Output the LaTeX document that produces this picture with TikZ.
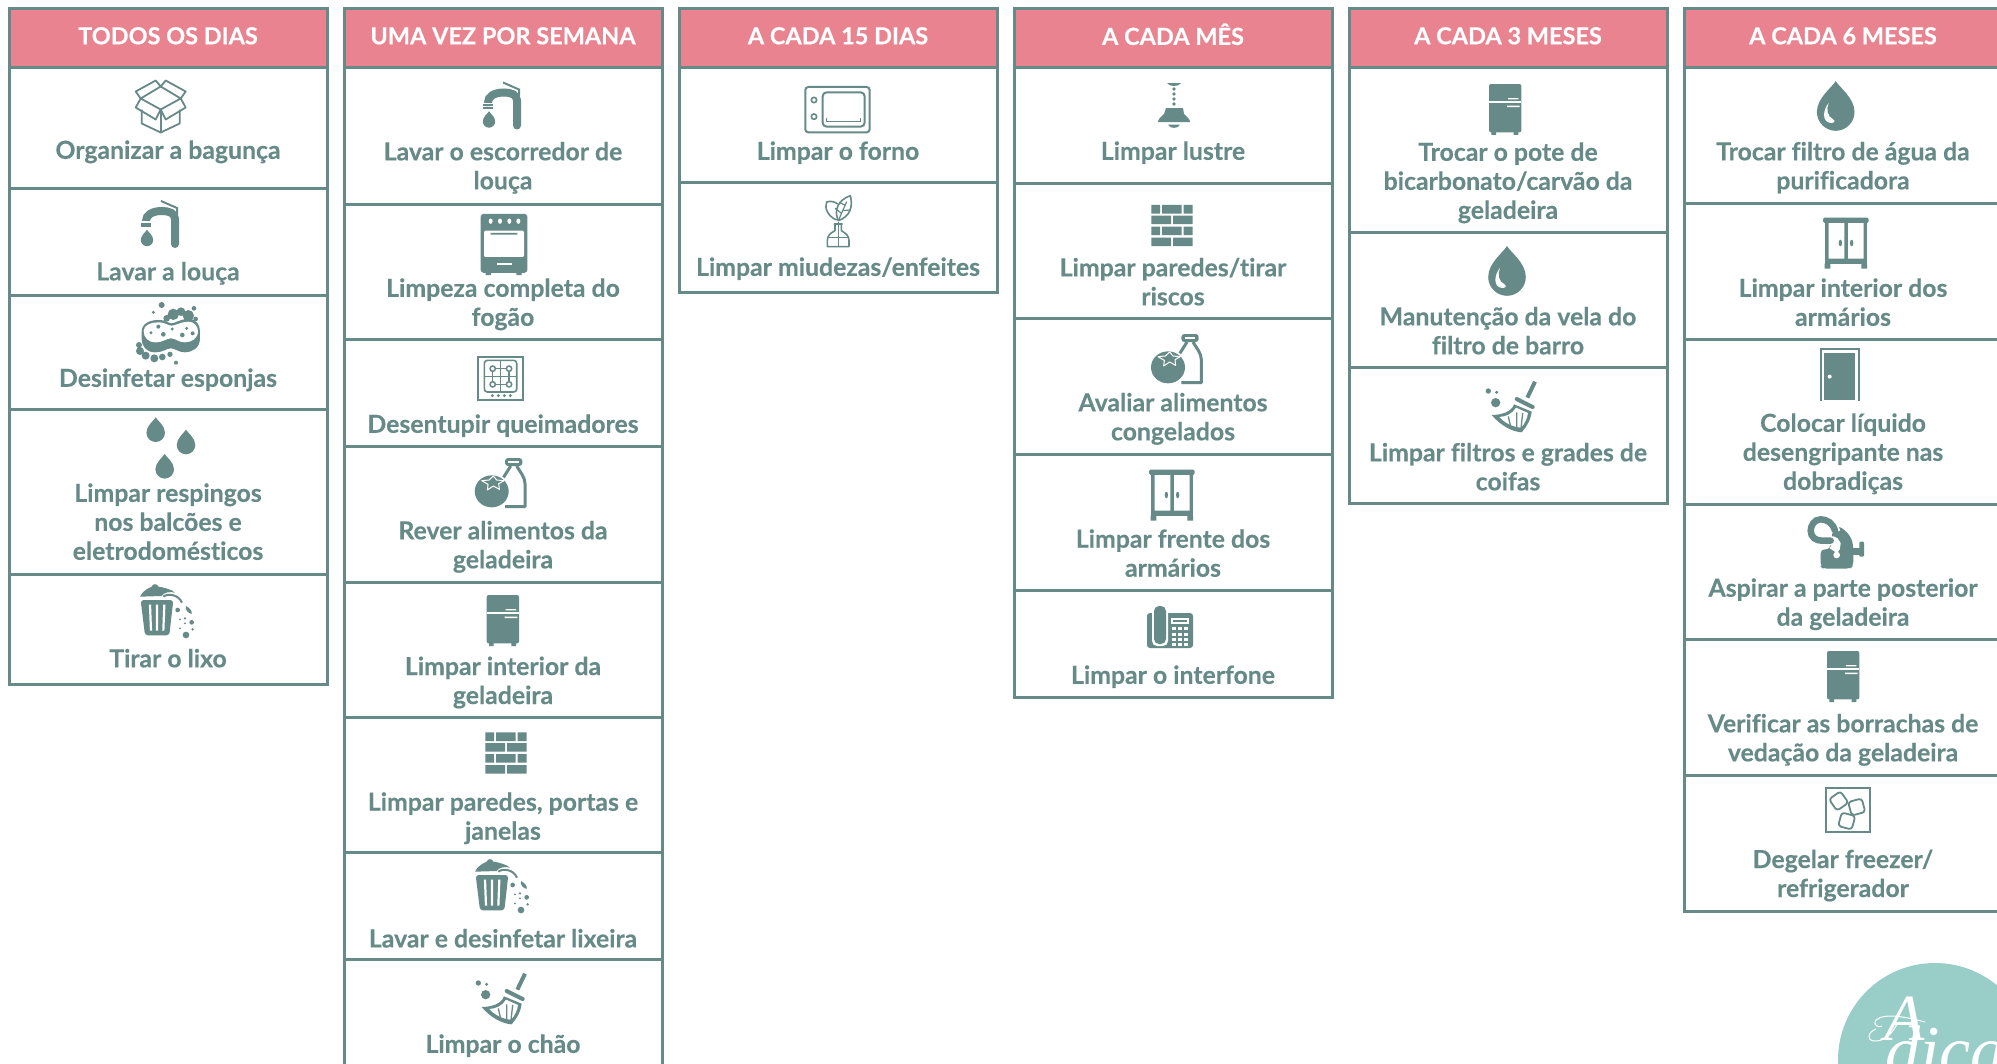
\documentclass[tikz,border=0pt]{standalone}
\usepackage{fontspec}
\setmainfont{Lato}[Ligatures=CommonOff,BoldFeatures={FakeBold=0.35}]
\newfontfamily\dicafont{Liberation Serif}
\definecolor{tealc}{HTML}{668A87}
\definecolor{pinkc}{HTML}{E8838F}
\definecolor{mintc}{HTML}{98CDC8}
\newcommand{\dropunit}{(0,-1.65) .. controls (0.2,-1.3) and (1,-0.75) .. (1,0) .. controls (1,0.55) and (0.55,1) .. (0,1) .. controls (-0.55,1) and (-1,0.55) .. (-1,0) .. controls (-1,-0.75) and (-0.2,-1.3) .. (0,-1.65) -- cycle}
\tikzset{
  x=1pt,y=-1pt,
  lab/.style={font=\fontsize{24.8}{29}\selectfont\bfseries,text=tealc,align=center,inner sep=0pt,anchor=center,yshift=-3pt},
  ttl/.style={font=\fontsize{23.5}{29}\selectfont\bfseries,text=white,inner sep=0pt,anchor=center},
  ic/.style={fill=tealc,draw=none},
  icl/.style={draw=tealc,fill=none,line width=1.8pt,line join=round},
  wh/.style={fill=white,draw=none},
  frame/.style={draw=tealc,line width=3pt},
  pics/faucetic/.style={code={
    \draw[tealc,line width=8pt,line cap=round] (15,20) -- (15,-5) .. controls (15,-11) and (9,-13) .. (2,-13) .. controls (-8,-13) and (-14,-9) .. (-14,-3);
    \fill[wh] (-22,-3) rectangle (-6,-1.5);
    \fill[ic] (-19,-1.5) rectangle (-9,0.5);
    \fill[ic] (-19,1.2) rectangle (-9,3.4);
    \draw[tealc,line width=2pt] (1,-23) -- (17,-16) -- (17,-10);
    \begin{scope}[shift={(-13,16)},scale=6.2]\fill[ic] \dropunit;\end{scope}
  }},
  pics/boxic/.style={code={
    \draw[icl] (-20,-8) -- (-25,-15) -- (-5,-26) -- (0,-20) -- (5,-26) -- (25,-15) -- (20,-8);
    \draw[icl] (0,-20) -- (-20,-8) -- (0,3) -- (20,-8) -- cycle;
    \draw[icl] (-20,-8) -- (-25,1) -- (-5,13) -- (0,3) -- (5,13) -- (25,1) -- (20,-8);
    \draw[icl] (-19,3) -- (-19,17) -- (0,26) -- (19,17) -- (19,3);
    \draw[icl] (0,3) -- (0,26);
  }},
  pics/spongeic/.style={code={
    \begin{scope}[scale=0.3333]
    \fill[ic] (110,30) circle[radius=9] (85,52) circle[radius=5] (207,40) circle[radius=7] (153,203) circle[radius=6];
    \fill[ic] (125,70) circle[radius=10] (145,58) circle[radius=17] (168,50) circle[radius=13] (190,62) circle[radius=17] (212,72) circle[radius=7];
    \fill[ic] (42,150) circle[radius=9] (45,168) circle[radius=12] (62,182) circle[radius=12] (88,190) circle[radius=12] (112,186) circle[radius=10] (135,178) circle[radius=8];
    \fill[ic] (50,110) .. controls (50,85) and (75,75) .. (100,75) .. controls (125,75) and (130,85) .. (140,85) .. controls (150,85) and (165,72) .. (190,72) .. controls (215,72) and (225,90) .. (225,110) -- (225,130) .. controls (225,160) and (200,172) .. (180,172) .. controls (160,172) and (150,160) .. (138,160) .. controls (125,160) and (115,172) .. (90,172) .. controls (65,172) and (50,155) .. (50,130) -- cycle;
    \fill[wh] (56,108) .. controls (56,90) and (78,82) .. (100,82) .. controls (122,82) and (128,92) .. (140,92) .. controls (152,92) and (168,80) .. (190,80) .. controls (208,80) and (219,95) .. (219,108) .. controls (219,130) and (200,142) .. (180,142) .. controls (160,142) and (152,130) .. (138,130) .. controls (124,130) and (115,142) .. (92,142) .. controls (70,142) and (56,128) .. (56,108) -- cycle;
    \fill[ic] (100,95) circle[radius=6] (142,102) circle[radius=5] (185,100) circle[radius=5] (78,113) circle[radius=5] (115,118) circle[radius=7] (172,120) circle[radius=7] (203,115) circle[radius=6];
    \end{scope}
  }},
  pics/trashic/.style={code={
    \begin{scope}[scale=0.3333]
    \fill[ic] (30,50) .. controls (38,32) and (55,25) .. (65,20) .. controls (68,10) and (82,10) .. (85,20) .. controls (100,22) and (125,28) .. (135,38) .. controls (120,33) and (100,38) .. (95,48) -- cycle;
    \draw[tealc,line width=2pt] (100,50) .. controls (112,40) and (145,42) .. (156,68);
    \fill[ic,rounded corners=3pt] (32,60) -- (130,60) -- (118,166) -- (45,166) -- cycle;
    \draw[white,line width=2.2pt] (60,74) -- (63,152) (81,74) -- (81,152) (103,74) -- (100,152);
    \fill[ic] (143,90) circle[radius=7] (150,118) circle[radius=3] (165,115) circle[radius=4] (185,127) circle[radius=7] (165,130) circle[radius=3] (150,145) circle[radius=3] (188,148) circle[radius=4] (168,165) circle[radius=10];
    \fill[ic] (168,78) .. controls (180,85) and (187,92) .. (185,102) .. controls (175,100) and (165,90) .. (168,78) -- cycle;
    \end{scope}
  }},
  pics/stoveic/.style={code={
    \begin{scope}[scale=0.3333,shift={(-492,-707)}]
    \fill[ic,rounded corners=3pt] (422,618) rectangle (562,795);
    \fill[ic] (437,790) rectangle (453,802) (529,790) rectangle (545,802);
    \fill[wh,rounded corners=2pt] (432,668) rectangle (552,748);
    \fill[ic] (452,675) rectangle (532,680) (432,748) rectangle (552,755);
    \fill[wh] (472,766) rectangle (515,771);
    \fill[wh] (452,640) ellipse[x radius=6,y radius=8] (480,640) ellipse[x radius=6,y radius=8] (508,640) ellipse[x radius=6,y radius=8] (535,640) ellipse[x radius=6,y radius=8];
    \end{scope}
  }},
  pics/cooktopic/.style={code={
    \begin{scope}[scale=0.3333,shift={(-482,-1098)}]
    \draw[tealc,line width=2pt] (414,1034) rectangle (550,1163);
    \draw[tealc,line width=1.6pt,rounded corners=3pt] (433,1045) rectangle (530,1140);
    \draw[tealc,line width=1.4pt] (482,1045) -- (482,1140) (433,1093) -- (530,1093) (458,1070) -- (507,1070) (458,1117) -- (507,1117) (458,1070) -- (458,1117) (507,1070) -- (507,1117);
    \foreach \px/\py in {458/1070,507/1070,458/1117,507/1117}{\draw[tealc,fill=white,line width=1.5pt] (\px,\py) circle[radius=8];}
    \fill[ic] (457,1151) circle[radius=5] (475,1151) circle[radius=5] (493,1151) circle[radius=5] (511,1151) circle[radius=5];
    \end{scope}
  }},
  pics/foodic/.style={code={
    \begin{scope}[scale=0.3333,shift={(-482,-1403)}]
    \draw[tealc,line width=3pt,line join=round] (512,1352) -- (488,1390) (530,1352) .. controls (540,1370) and (555,1385) .. (555,1405) -- (555,1474) -- (495,1474);
    \fill[ic,rounded corners=3pt] (495,1328) rectangle (547,1352);
    \fill[wh] (505,1336) rectangle (537,1342);
    \fill[wh] (455,1428) ellipse[x radius=57,y radius=53];
    \fill[ic] (455,1428) ellipse[x radius=51,y radius=48];
    \draw[white,fill=tealc,line width=1pt,line join=round] (425,1396) -- (447,1394) -- (460,1382) -- (470,1394) -- (492,1396) -- (476,1405) -- (478,1422) -- (460,1412) -- (442,1424) -- (444,1407) -- cycle;
    \end{scope}
  }},
  pics/fridgeic/.style={code={
    \begin{scope}[scale=0.3333,shift={(-488,-240)}]
    \fill[ic,rounded corners=2pt] (440,165) rectangle (537,310);
    \fill[ic] (447,305) rectangle (461,318) (514,305) rectangle (528,318);
    \fill[wh] (440,217) rectangle (537,222);
    \fill[wh] (497,207) rectangle (528,211) (494,230) rectangle (532,234);
    \end{scope}
  }},
  pics/wallic/.style={code={
    \begin{scope}[scale=0.3333,shift={(-498,-640)}]
    \foreach \ya/\yb in {578/604,643/669}{\fill[ic] (436,\ya) rectangle (462,\yb) (468,\ya) rectangle (527,\yb) (533,\ya) rectangle (560,\yb);}
    \foreach \ya/\yb in {610/636,676/702}{\fill[ic] (436,\ya) rectangle (495,\yb) (501,\ya) rectangle (560,\yb);}
    \end{scope}
  }},
  pics/broomic/.style={code={
    \begin{scope}[scale=0.3333]
    \fill[ic] (-65,-42) circle[radius=8] (-40,-38) circle[radius=5] (-43,-7) circle[radius=14];
    \draw[tealc,line width=4pt] (75,-70) -- (52,-22);
    \draw[tealc,line width=4pt,line cap=round] (20,-18) -- (68,6);
    \fill[ic] (12,-2) -- (65,20) .. controls (62,45) and (50,65) .. (35,82) .. controls (5,80) and (-30,60) .. (-55,30) .. controls (-25,30) and (5,20) .. (12,-2) -- cycle;
    \fill[wh] (-32,36) .. controls (-10,35) and (8,25) .. (18,8) -- (54,24) .. controls (52,40) and (44,56) .. (33,68) .. controls (10,66) and (-15,55) .. (-32,36) -- cycle;
    \draw[tealc,line width=1.3pt] (-5,34) -- (2,66) (20,22) -- (20,70) (38,24) -- (33,70);
    \end{scope}
  }},
  pics/ovenic/.style={code={
    \begin{scope}[scale=0.3333]
    \draw[tealc,line width=2pt,rounded corners=3pt] (406,261) rectangle (599,397);
    \draw[tealc,line width=2pt,rounded corners=4pt] (458,277) rectangle (584,380);
    \draw[tealc,line width=1.6pt] (470,354) -- (470,365) -- (572,365) -- (572,354);
    \draw[tealc,line width=1.6pt] (432,300) circle[radius=8] (432,350) circle[radius=8];
    \end{scope}
  }},
  pics/plantic/.style={code={
    \begin{scope}[scale=0.3333]
    \draw[icl,line width=1.6pt] (505,662) .. controls (490,630) and (505,600) .. (541,587) .. controls (550,620) and (540,650) .. (505,662) -- cycle;
    \draw[icl,line width=1.2pt] (505,662) -- (530,605) (515,640) -- (495,625) (518,632) -- (540,630) (525,615) -- (508,608);
    \draw[icl,line width=1.6pt] (500,660) .. controls (475,650) and (462,625) .. (470,606) .. controls (480,602) and (495,605) .. (503,612);
    \draw[icl,line width=1.6pt] (492,672) -- (518,672) (495,672) -- (495,692) .. controls (480,700) and (472,708) .. (472,722) -- (472,740) -- (537,740) -- (537,722) .. controls (537,708) and (528,700) .. (514,692) -- (514,672);
    \draw[icl,line width=1.2pt] (472,712) -- (537,712) (505,665) -- (505,740);
    \end{scope}
  }},
  pics/lampic/.style={code={
    \fill[ic] (-7,-22) -- (7,-22) .. controls (5,-18) and (-5,-18) .. (-7,-22) -- cycle;
    \fill[ic] (0,-16) circle[radius=1.8] (0,-11) circle[radius=1.8] (0,-6) circle[radius=1.8] (0,-1) circle[radius=1.8];
    \fill[ic] (-8,3) -- (9,3) -- (10,9) .. controls (13,12) and (16,14) .. (16,17) -- (-16,17) .. controls (-16,14) and (-13,12) .. (-10,9) -- cycle;
    \fill[ic] (-6,19.5) -- (6,19.5) .. controls (5,24) and (-5,24) .. (-6,19.5) -- cycle;
  }},
  pics/cabinetic/.style={code={
    \begin{scope}[scale=0.3333,shift={(-497,-728)}]
    \fill[ic,rounded corners=1.5pt] (428,652) rectangle (565,668);
    \fill[ic] (433,660) rectangle (560,790);
    \fill[ic] (433,790) rectangle (450,805) (543,790) rectangle (560,805);
    \fill[wh] (445,668) rectangle (492,775) (503,668) rectangle (550,775);
    \fill[ic] (480,728) ellipse[x radius=5,y radius=10] (514,728) ellipse[x radius=5,y radius=10];
    \end{scope}
  }},
  pics/phoneic/.style={code={
    \fill[ic,rounded corners=3pt] (-23,-14) rectangle (23,21);
    \fill[wh,rounded corners=5pt] (-18,-23) rectangle (-2,19);
    \fill[ic,rounded corners=5pt] (-16,-21) rectangle (-4,17);
    \fill[wh] (1,-9) rectangle (19,-3);
    \fill[ic] (3,-7) rectangle (17,-5);
    \foreach \py in {0,5.5,11,16}{\foreach \px in {2,8,14}{\fill[wh] (\px,\py) rectangle ++(4,3);}}
  }},
  pics/dropic/.style={code={
    \begin{scope}[scale=18.8]\fill[ic] \dropunit;\end{scope}
    \fill[wh] (-7,-9) .. controls (-13,-2) and (-14,10) .. (-5,11) .. controls (-1,11) and (0,9) .. (-3,7) .. controls (-8,5) and (-10,-3) .. (-7,-9) -- cycle;
  }},
  pics/dooric/.style={code={
    \begin{scope}[scale=0.3333]
    \draw[tealc,line width=2pt] (422,1203) -- (422,1046) -- (537,1046) -- (537,1203);
    \fill[ic] (433,1058) rectangle (525,1200);
    \fill[wh] (449,1130) circle[radius=6];
    \end{scope}
  }},
  pics/vacuumic/.style={code={
    \begin{scope}[scale=0.3333]
    \fill[ic,rounded corners=4pt] (62,118) -- (62,170) -- (68,176) -- (150,176) -- (160,168) -- (160,108) .. controls (152,75) and (130,52) .. (100,48) -- (90,118) -- cycle;
    \fill[ic] (155,115) rectangle (180,135);
    \fill[ic,rounded corners=1pt] (178,95) rectangle (192,140);
    \draw[white,line width=9pt] (108,66) .. controls (100,38) and (80,28) .. (62,28) .. controls (42,28) and (32,48) .. (32,62) .. controls (32,82) and (48,92) .. (65,92) -- (92,92) .. controls (112,92) and (112,110) .. (100,122);
    \draw[tealc,line width=6.5pt,line cap=round] (105,62) .. controls (98,38) and (80,28) .. (62,28) .. controls (42,28) and (32,48) .. (32,62) .. controls (32,82) and (48,92) .. (65,92) -- (92,92);
    \fill[wh] (110,135) circle[radius=10];
    \end{scope}
  }},
  pics/iceic/.style={code={
    \draw[tealc,line width=2pt] (-22,-22) rectangle (22,22);
    \begin{scope}[shift={(-9,-9)},rotate=35]\draw[icl,fill=white,rounded corners=3pt] (-7,-7) rectangle (7,7);\end{scope}
    \begin{scope}[shift={(9,-3)},rotate=15]\draw[icl,fill=white,rounded corners=3pt] (-7,-7) rectangle (7,7);\end{scope}
    \begin{scope}[shift={(-1,11)},rotate=-15]\draw[icl,fill=white,rounded corners=3pt] (-7,-7) rectangle (7,7);\end{scope}
  }},
}
\newcommand{\colframe}[4]{% left, title name, title, rows
  \fill[pinkc] (#1,8) rectangle ++(318,59);
  \node[ttl] (#2) at (#1+159,38.5) {\strut #3};
  \foreach \ry [remember=\ry as \py (initially 8)] in {#4}{\draw[frame] (#1,\py) rectangle (#1+318,\ry);}
}
\begin{document}
\begin{tikzpicture}
\useasboundingbox (0,0) rectangle (1997,1063);
\fill[white] (0,0) rectangle (1997,1063);
\begin{scope}
\clip (0,0) rectangle (1997,1063);
% logo
\fill[mintc] (1935,1060) circle[radius=97];
\node[font=\dicafont\itshape\fontsize{66}{66}\selectfont,text=white,inner sep=0pt,anchor=base] (logoa) at (1905,1040) {A};
\node[font=\dicafont\itshape\fontsize{70}{70}\selectfont,text=white,inner sep=0pt,anchor=base west] (logob) at (1885,1074) {dica};
\draw[white,line width=1pt] (1925,1022) .. controls (1910,1018) and (1885,1012) .. (1876,1020) .. controls (1872,1026) and (1880,1028) .. (1882,1026) (1876,1029) .. controls (1868,1032) and (1866,1040) .. (1874,1041) .. controls (1885,1042) and (1893,1032) .. (1897,1024);
% columns
\colframe{9}{t1}{TODOS OS DIAS}{67,188,295,409,574,684}
\colframe{344}{t2}{UMA VEZ POR SEMANA}{67,204,339,446,582,717,852,959,1075}
\colframe{679}{t3}{A CADA 15 DIAS}{67,182,292}
\colframe{1014}{t4}{A CADA MÊS}{67,183,318,454,590,697}
\colframe{1349}{t5}{A CADA 3 MESES}{67,232,367,503}
\colframe{1684}{t6}{A CADA 6 MESES}{67,203,339,504,639,775,911}
% column 1
\pic at (160.7,106.5) {boxic};
\pic at (160,224) {faucetic};
\pic at (125,295) {spongeic};
\begin{scope}[shift={(155.7,432.7)},scale=9.3]\fill[ic] \dropunit;\end{scope}
\begin{scope}[shift={(186,445)},scale=9.3]\fill[ic] \dropunit;\end{scope}
\begin{scope}[shift={(164.7,469.3)},scale=9.3]\fill[ic] \dropunit;\end{scope}
\pic at (130,580) {trashic};
\node[lab] (a1) at (168,150) {\strut Organizar a bagunça};
\node[lab] (a2) at (168,271.5) {\strut Lavar a louça};
\node[lab] (a3) at (168,378) {\strut Desinfetar esponjas};
\node[lab] (a4) at (168,522) {\strut Limpar respingos\\\strut nos balcões e\\\strut eletrodomésticos};
\node[lab] (a5) at (168,658.5) {\strut Tirar o lixo};
% column 2
\pic at (502,105.5) {faucetic};
\pic at (504,243.5) {stoveic};
\pic at (500.7,378) {cooktopic};
\pic at (500.7,483) {foodic};
\pic at (502.7,620) {fridgeic};
\pic at (506,753) {wallic};
\pic at (465,855) {trashic};
\pic at (500,997) {broomic};
\node[lab] (b1) at (503,166) {\strut Lavar o escorredor de\\\strut louça};
\node[lab] (b2) at (503,302.5) {\strut Limpeza completa do\\\strut fogão};
\node[lab] (b3) at (503,424) {\strut Desentupir queimadores};
\node[lab] (b4) at (503,545) {\strut Rever alimentos da\\\strut geladeira};
\node[lab] (b5) at (503,680.7) {\strut Limpar interior da\\\strut geladeira};
\node[lab] (b6) at (503,816.4) {\strut Limpar paredes, portas e\\\strut janelas};
\node[lab] (b7) at (503,938.6) {\strut Lavar e desinfetar lixeira};
\node[lab] (b8) at (503,1044) {\strut Limpar o chão};
% column 3
\pic at (670,0) {ovenic};
\pic at (670,0) {plantic};
\node[lab] (c1) at (838,151) {\strut Limpar o forno};
\node[lab] (c2) at (838,267) {\strut Limpar miudezas/enfeites};
% column 4
\pic at (1174,105) {lampic};
\pic at (1172,225.5) {wallic};
\pic at (1177,359) {foodic};
\pic at (1172,495) {cabinetic};
\pic at (1170,627) {phoneic};
\node[lab] (d1) at (1173,151) {\strut Limpar lustre};
\node[lab] (d2) at (1173,282) {\strut Limpar paredes/tirar\\\strut riscos};
\node[lab] (d3) at (1173,417) {\strut Avaliar alimentos\\\strut congelados};
\node[lab] (d4) at (1173,553.4) {\strut Limpar frente dos\\\strut armários};
\node[lab] (d5) at (1173,675) {\strut Limpar o interfone};
% column 5
\pic at (1505,109) {fridgeic};
\pic at (1507,277) {dropic};
\pic at (1510,405) {broomic};
\node[lab] (e1) at (1508,181) {\strut Trocar o pote de\\\strut bicarbonato/carvão da\\\strut geladeira};
\node[lab] (e2) at (1508,331) {\strut Manutenção da vela do\\\strut filtro de barro};
\node[lab] (e3) at (1508,467) {\strut Limpar filtros e grades de\\\strut coifas};
% column 6
\pic at (1835.7,112) {dropic};
\pic at (1846,243) {cabinetic};
\pic at (1680,0) {dooric};
\pic at (1800,510) {vacuumic};
\pic at (1843,676) {fridgeic};
\pic at (1847.7,810) {iceic};
\node[lab] (f1) at (1843,166) {\strut Trocar filtro de água da\\\strut purificadora};
\node[lab] (f2) at (1843,302.5) {\strut Limpar interior dos\\\strut armários};
\node[lab] (f3) at (1843,452) {\strut Colocar líquido\\\strut desengripante nas\\\strut dobradiças};
\node[lab] (f4) at (1843,602.4) {\strut Aspirar a parte posterior\\\strut da geladeira};
\node[lab] (f5) at (1843,738) {\strut Verificar as borrachas de\\\strut vedação da geladeira};
\node[lab] (f6) at (1843,873.7) {\strut Degelar freezer/\\\strut refrigerador};
\end{scope}
\end{tikzpicture}
\end{document}
